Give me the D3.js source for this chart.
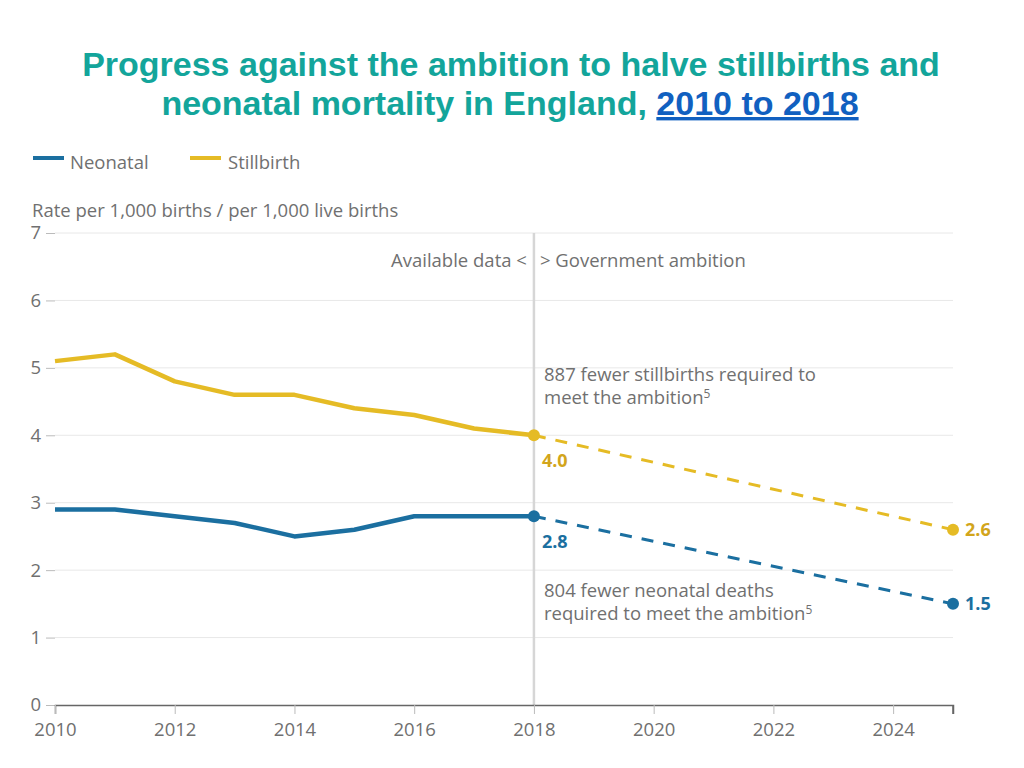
<!DOCTYPE html>
<html>
<head>
<meta charset="utf-8">
<script src="https://cdn.jsdelivr.net/npm/d3@7"></script>
<style>
  body { margin: 0; background: #fff; }
  svg { display: block; }
</style>
</head>
<body>
<svg id="chart" width="1024" height="768"></svg>
<script>
const years = [2010, 2011, 2012, 2013, 2014, 2015, 2016, 2017, 2018];
const neonatal = [2.9, 2.9, 2.8, 2.7, 2.5, 2.6, 2.8, 2.8, 2.8];
const stillbirth = [5.1, 5.2, 4.8, 4.6, 4.6, 4.4, 4.3, 4.1, 4.0];
const ambitionYears = [2018, 2025];
const neonatalAmbition = [2.8, 1.5];
const stillbirthAmbition = [4.0, 2.6];
const yTicks = [0, 1, 2, 3, 4, 5, 6, 7];
const xTicks = [2010, 2012, 2014, 2016, 2018, 2020, 2022, 2024];
const seriesNames = ["Neonatal", "Stillbirth"];

const BLUE = "#1b6fa0";
const GOLD = "#e5bb25";
const GOLD_TEXT = "#d2a51c";
const GREY = "#707070";
const FONT = "'Open Sans', sans-serif";
const FS = 18.5;

const svg = d3.select("#chart");

const x = d3.scaleLinear().domain([2010, 2025]).range([55, 953]);
const y = d3.scaleLinear().domain([0, 7]).range([705, 233]);

// Title
const title = svg.append("g").attr("font-family", "'Liberation Sans', Arial, sans-serif")
  .attr("font-weight", "bold").attr("font-size", 34).attr("text-anchor", "middle");
title.append("text").attr("x", 511).attr("y", 76).attr("fill", "#13a59b")
  .text("Progress against the ambition to halve stillbirths and");
const t2 = title.append("text").attr("x", 510).attr("y", 115).attr("fill", "#13a59b");
t2.append("tspan").text("neonatal mortality in England, ");
t2.append("tspan").attr("fill", "#1160c0").attr("text-decoration", "underline").text("2010 to 2018");

// Legend
const legend = svg.append("g").attr("font-family", FONT).attr("font-size", FS).attr("fill", GREY);
[[33, 70, BLUE], [190, 228, GOLD]].forEach((p, i) => {
  legend.append("line").attr("x1", p[0]).attr("x2", p[0] + 31).attr("y1", 158).attr("y2", 158)
    .attr("stroke", p[2]).attr("stroke-width", 4);
  legend.append("text").attr("x", p[1]).attr("y", 169).text(seriesNames[i]);
});

// Y axis title
svg.append("text").attr("x", 32).attr("y", 217).attr("font-family", FONT).attr("font-size", FS)
  .attr("fill", GREY).text("Rate per 1,000 births / per 1,000 live births");

// Gridlines
svg.append("g").selectAll("line").data(yTicks.filter(d => d > 0)).join("line")
  .attr("x1", 55).attr("x2", 953).attr("y1", d => y(d)).attr("y2", d => y(d))
  .attr("stroke", "#e8e8e8").attr("stroke-width", 1);

// Y axis
const yAxis = svg.append("g").attr("transform", "translate(55,0)")
  .call(d3.axisLeft(y).tickValues(yTicks).tickFormat(d3.format("d")).tickSize(9).tickPadding(5));
yAxis.select(".domain").remove();
yAxis.selectAll(".tick line").attr("stroke", "#bbb");
yAxis.selectAll(".tick text").attr("font-family", FONT).attr("font-size", FS).attr("fill", GREY);

// Vertical divider
svg.append("line").attr("x1", x(2018)).attr("x2", x(2018)).attr("y1", y(7)).attr("y2", y(0))
  .attr("stroke", "#d6d6d6").attr("stroke-width", 2.5);

// X axis
const xAxis = svg.append("g").attr("transform", `translate(0,${y(0)})`)
  .call(d3.axisBottom(x).tickValues(xTicks).tickFormat(d3.format("d")).tickSize(9).tickPadding(9).tickSizeOuter(9));
xAxis.select(".domain").attr("stroke", "#666").attr("stroke-width", 1.5);
xAxis.selectAll(".tick line").attr("stroke", "#bbb");
xAxis.selectAll(".tick text").attr("font-family", FONT).attr("font-size", FS).attr("fill", GREY);
xAxis.append("line").attr("x1", x(2025)).attr("x2", x(2025)).attr("y1", 0).attr("y2", 9)
  .attr("stroke", "#666").attr("stroke-width", 1.5);

// Divider annotation
const ann = svg.append("g").attr("font-family", FONT).attr("font-size", FS).attr("fill", GREY);
ann.append("text").attr("x", x(2018) - 7).attr("y", 267).attr("text-anchor", "end").text("Available data <");
ann.append("text").attr("x", x(2018) + 6).attr("y", 267).text("> Government ambition");

function multiline(xp, yp, lines) {
  lines.forEach((l, i) => {
    const t = ann.append("text").attr("x", xp).attr("y", yp + i * 23);
    t.append("tspan").text(l[0]);
    if (l[1]) t.append("tspan").attr("font-size", 12).attr("dy", -6).text(l[1]);
  });
}
multiline(544, 381, [["887 fewer stillbirths required to"], ["meet the ambition", "5"]]);
multiline(544, 597, [["804 fewer neonatal deaths"], ["required to meet the ambition", "5"]]);

// Lines
const line = d3.line().x(d => x(d[0])).y(d => y(d[1]));
function drawSeries(vals, projVals, color) {
  svg.append("path").datum(d3.zip(ambitionYears, projVals)).attr("d", line)
    .attr("fill", "none").attr("stroke", color).attr("stroke-width", 3).attr("stroke-dasharray", "12,10");
  svg.append("path").datum(d3.zip(years, vals)).attr("d", line)
    .attr("fill", "none").attr("stroke", color).attr("stroke-width", 4.5).attr("stroke-linejoin", "round");
  svg.append("g").selectAll("circle").data(d3.zip(ambitionYears, projVals)).join("circle")
    .attr("cx", d => x(d[0])).attr("cy", d => y(d[1])).attr("r", 6).attr("fill", color);
}
drawSeries(stillbirth, stillbirthAmbition, GOLD);
drawSeries(neonatal, neonatalAmbition, BLUE);

// Value labels
const vl = svg.append("g").attr("font-family", FONT).attr("font-size", 18).attr("font-weight", "bold");
vl.append("text").attr("x", x(2018) + 8).attr("y", y(stillbirthAmbition[0]) + 32).attr("fill", GOLD_TEXT)
  .text(d3.format(".1f")(stillbirthAmbition[0]));
vl.append("text").attr("x", x(2018) + 8).attr("y", y(neonatalAmbition[0]) + 32).attr("fill", BLUE)
  .text(d3.format(".1f")(neonatalAmbition[0]));
vl.append("text").attr("x", x(2025) + 12).attr("y", y(stillbirthAmbition[1]) + 6).attr("fill", GOLD_TEXT)
  .text(d3.format(".1f")(stillbirthAmbition[1]));
vl.append("text").attr("x", x(2025) + 12).attr("y", y(neonatalAmbition[1]) + 6).attr("fill", BLUE)
  .text(d3.format(".1f")(neonatalAmbition[1]));
</script>
</body>
</html>
